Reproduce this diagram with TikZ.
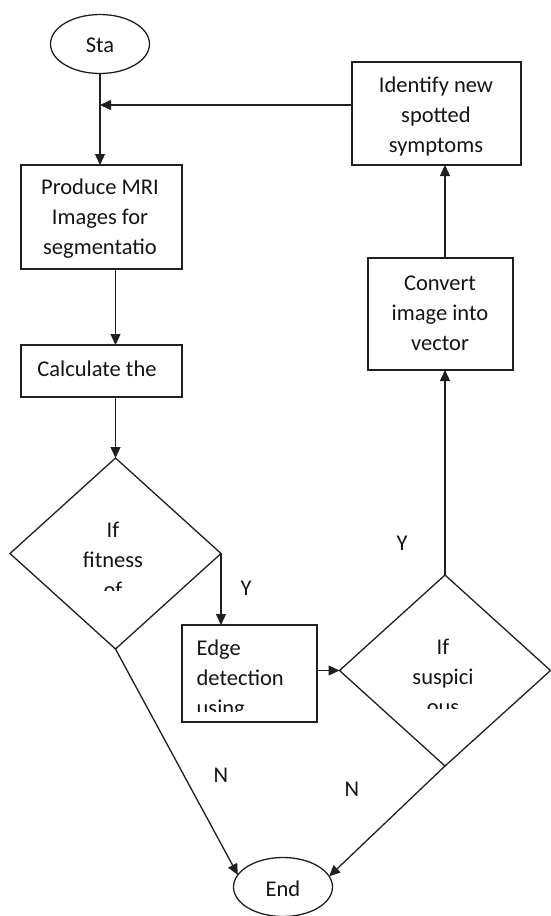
\documentclass[tikz,border=0pt]{standalone}
\usepackage{fontspec}
\setmainfont{Carlito}
\usetikzlibrary{shapes.geometric,arrows.meta}
\begin{document}
\begin{tikzpicture}[x=1pt,y=-1pt,
  line width=1.3pt, draw=black!88,
  txt/.style={font=\fontsize{22.5}{30}\selectfont, text=black!92, inner sep=0pt},
  boxnode/.style={draw, rectangle, inner sep=0pt, outer sep=0pt},
  decision/.style={draw, diamond, inner sep=0pt, outer sep=0pt,
    minimum width=211pt, minimum height=191pt},
  terminal/.style={draw, ellipse, inner sep=0pt, outer sep=0pt,
    minimum width=99pt, minimum height=59pt},
  arr/.style={-{Triangle[length=11pt,width=10pt]}}]
\useasboundingbox (0,0) rectangle (550,916);

% terminals
\node[terminal] (sta) at (100,44) {};
\node[txt] (statxt) at (100,45) {Sta};
\node[terminal] (endn) at (283,887) {};
\node[txt] (endtxt) at (283,889) {End};

% process boxes
\node[boxnode, minimum width=161pt, minimum height=104pt] (prod) at (101.5,217) {};
\node[txt, align=center] (prodtxt) at (100,219) {Produce MRI\\Images for\\segmentatio};

\node[boxnode, minimum width=161pt, minimum height=52pt] (calc) at (101.5,371) {};
\node[txt] (calctxt) at (97,369) {Calculate the};

\node[boxnode, minimum width=135pt, minimum height=97pt] (edge) at (249.5,673.5) {};
\begin{scope}
  \clip (0,0) rectangle (550,711);
  \node[txt, align=left, anchor=west] (edgetxt) at (196,680) {Edge\\detection\\using};
\end{scope}

\node[boxnode, minimum width=145pt, minimum height=112pt] (conv) at (440.5,314) {};
\node[txt, align=center] (convtxt) at (440,313) {Convert\\image into\\vector};

\node[boxnode, minimum width=169pt, minimum height=103pt] (ident) at (436.5,113.5) {};
\node[txt, align=center] (identtxt) at (436,116) {Identify new\\spotted\\symptoms};

% decisions
\node[decision] (d1) at (115.5,553.5) {};
\begin{scope}
  \clip (0,0) rectangle (550,590);
  \node[txt, align=center] (d1txt) at (113,560) {If\\fitness\\of};
\end{scope}

\node[decision] (d2) at (445,670.5) {};
\begin{scope}
  \clip (0,0) rectangle (550,708);
  \node[txt, align=center] (d2txt) at (443,677) {If\\suspici\\ous};
\end{scope}

% connectors
\coordinate (fbstart) at (ident.west |- 0,105);
\coordinate (fbjoin) at (sta.south |- 0,105);
\draw[arr] (sta.south) -- (sta.south |- prod.north);
\draw[arr] (fbstart) -- (fbjoin);
\draw[arr] (prod.south -| d1.north) -- (calc.north -| d1.north);
\draw[arr] (calc.south -| d1.north) -- (d1.north);
\draw[arr] (d1.east) -- (d1.east |- edge.north);
\draw[arr] (edge.east |- d2.west) -- (d2.west);
\draw[arr] (d2.north) -- (d2.north |- conv.south);
\draw[arr] (conv.north -| d2.north) -- (ident.south -| d2.north);
\draw[arr] (d1.south) -- (endn.165);
\draw[arr] (d2.south) -- (endn.13);

% branch labels
\node[txt] (y1) at (246,588) {Y};
\node[txt] (y2) at (402,543) {Y};
\node[txt] (n1) at (221,775) {N};
\node[txt] (n2) at (352,789) {N};
\end{tikzpicture}
\end{document}
